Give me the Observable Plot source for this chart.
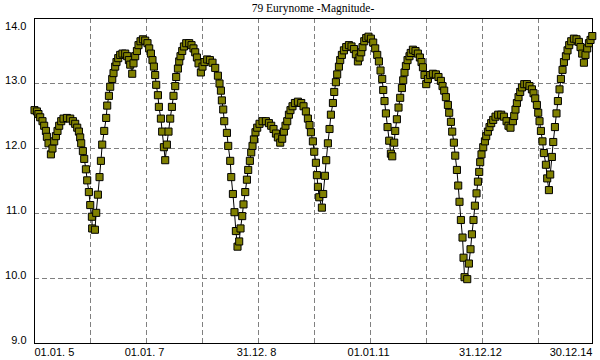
<!DOCTYPE html>
<html>
<head>
<meta charset="utf-8">
<script src="https://cdn.jsdelivr.net/npm/d3@7"></script>
<script src="https://cdn.jsdelivr.net/npm/@observablehq/plot@0.6"></script>
<style>
  html, body { margin: 0; padding: 0; background: #fff; }
  #wrap { position: relative; width: 600px; height: 360px; }
  #title { position: absolute; left: 34px; width: 558px; top: 1px; text-align: center;
           font-family: "Liberation Serif", "Times New Roman", serif; font-size: 11.5px; line-height: 14px; color: #000; }
</style>
</head>
<body>
<div id="wrap"><div id="title">79 Eurynome -Magnitude-</div></div>
<script>
const titleText = "79 Eurynome -Magnitude-";

// decimal year of each observation
const years = [
  2005.000, 2005.043, 2005.071, 2005.102, 2005.143, 2005.173, 2005.204, 2005.221, 2005.250, 2005.293,
  2005.321, 2005.352, 2005.382, 2005.411, 2005.441, 2005.477, 2005.518, 2005.579, 2005.638, 2005.686,
  2005.727, 2005.763, 2005.793, 2005.816, 2005.834, 2005.864, 2005.888, 2005.918, 2005.941, 2005.971,
  2005.995, 2006.025, 2006.030, 2006.079, 2006.102, 2006.132, 2006.161, 2006.186, 2006.209, 2006.245,
  2006.280, 2006.298, 2006.329, 2006.352, 2006.388, 2006.411, 2006.441, 2006.464, 2006.495, 2006.530,
  2006.571, 2006.620, 2006.655, 2006.686, 2006.709, 2006.745, 2006.768, 2006.798, 2006.829, 2006.857,
  2006.893, 2006.936, 2006.977, 2007.018, 2007.048, 2007.079, 2007.107, 2007.132, 2007.155, 2007.173,
  2007.204, 2007.221, 2007.257, 2007.280, 2007.311, 2007.334, 2007.364, 2007.393, 2007.423, 2007.454,
  2007.482, 2007.513, 2007.530, 2007.561, 2007.584, 2007.607, 2007.638, 2007.668, 2007.709, 2007.763,
  2007.804, 2007.839, 2007.870, 2007.900, 2007.929, 2007.971, 2008.000, 2008.036, 2008.084, 2008.132,
  2008.179, 2008.227, 2008.275, 2008.304, 2008.329, 2008.346, 2008.370, 2008.388, 2008.436, 2008.459,
  2008.495, 2008.513, 2008.543, 2008.571, 2008.596, 2008.625, 2008.655, 2008.679, 2008.709, 2008.732,
  2008.763, 2008.793, 2008.816, 2008.846, 2008.870, 2008.893, 2008.918, 2008.946, 2008.977, 2009.018,
  2009.071, 2009.132, 2009.186, 2009.227, 2009.268, 2009.311, 2009.346, 2009.388, 2009.423, 2009.454,
  2009.482, 2009.513, 2009.543, 2009.571, 2009.607, 2009.650, 2009.704, 2009.763, 2009.804, 2009.846,
  2009.882, 2009.911, 2009.936, 2009.971, 2009.995, 2010.025, 2010.043, 2010.061, 2010.084, 2010.132,
  2010.155, 2010.186, 2010.209, 2010.239, 2010.268, 2010.293, 2010.329, 2010.352, 2010.382, 2010.405,
  2010.436, 2010.459, 2010.489, 2010.525, 2010.566, 2010.614, 2010.661, 2010.704, 2010.739, 2010.775,
  2010.804, 2010.834, 2010.857, 2010.888, 2010.923, 2010.964, 2011.007, 2011.048, 2011.084, 2011.120,
  2011.150, 2011.179, 2011.209, 2011.227, 2011.250, 2011.275, 2011.304, 2011.334, 2011.364, 2011.388,
  2011.423, 2011.441, 2011.471, 2011.500, 2011.530, 2011.561, 2011.584, 2011.607, 2011.632, 2011.661,
  2011.696, 2011.718, 2011.757, 2011.804, 2011.846, 2011.882, 2011.911, 2011.936, 2011.964, 2011.995,
  2012.025, 2012.066, 2012.114, 2012.168, 2012.214, 2012.257, 2012.286, 2012.316, 2012.346, 2012.382,
  2012.405, 2012.436, 2012.459, 2012.489, 2012.513, 2012.543, 2012.566, 2012.589, 2012.614, 2012.643,
  2012.661, 2012.679, 2012.727, 2012.757, 2012.786, 2012.811, 2012.839, 2012.864, 2012.893, 2012.918,
  2012.941, 2012.959, 2012.982, 2013.013, 2013.043, 2013.066, 2013.096, 2013.125, 2013.155, 2013.191,
  2013.232, 2013.280, 2013.334, 2013.382, 2013.429, 2013.464, 2013.500, 2013.543, 2013.566, 2013.589,
  2013.614, 2013.643, 2013.673, 2013.704, 2013.745, 2013.793, 2013.839, 2013.882, 2013.911, 2013.941,
  2013.971, 2013.995, 2014.018, 2014.043, 2014.071, 2014.096, 2014.132, 2014.155, 2014.186, 2014.209,
  2014.239, 2014.263, 2014.293, 2014.321, 2014.346, 2014.375, 2014.400, 2014.429, 2014.454, 2014.489,
  2014.518, 2014.548, 2014.584, 2014.632, 2014.679, 2014.721, 2014.750, 2014.780, 2014.811, 2014.839,
  2014.870, 2014.900, 2014.929, 2014.960
];

// magnitude at each observation
const mags = [
  12.59, 12.57, 12.53, 12.48, 12.42, 12.35, 12.27, 12.18, 12.08, 11.91,
  12.00, 12.11, 12.19, 12.27, 12.35, 12.42, 12.46, 12.47, 12.46, 12.42,
  12.38, 12.32, 12.26, 12.17, 12.08, 11.96, 11.84, 11.68, 11.51, 11.33,
  11.13, 10.95, 10.77, 10.75, 11.01, 11.29, 11.56, 11.81, 12.06, 12.27,
  12.47, 12.66, 12.81, 12.95, 13.07, 13.16, 13.26, 13.33, 13.39, 13.44,
  13.46, 13.46, 13.42, 13.36, 13.29, 13.15, 13.31, 13.42, 13.50, 13.59,
  13.65, 13.68, 13.66, 13.62, 13.54, 13.46, 13.36, 13.26, 13.13, 12.98,
  12.82, 12.64, 12.46, 12.26, 12.02, 11.82, 12.06, 12.26, 12.46, 12.64,
  12.81, 12.96, 13.10, 13.23, 13.34, 13.42, 13.50, 13.57, 13.62, 13.62,
  13.59, 13.54, 13.48, 13.40, 13.31, 13.17, 13.26, 13.33, 13.37, 13.36,
  13.32, 13.24, 13.12, 13.00, 12.89, 12.74, 12.60, 12.42, 12.24, 12.04,
  11.81, 11.56, 11.30, 11.02, 10.73, 10.49, 10.57, 10.77, 10.96, 11.14,
  11.33, 11.52, 11.67, 11.81, 11.94, 12.04, 12.14, 12.25, 12.32, 12.38,
  12.42, 12.42, 12.39, 12.35, 12.30, 12.23, 12.17, 12.09, 12.15, 12.26,
  12.35, 12.42, 12.52, 12.59, 12.65, 12.70, 12.72, 12.70, 12.65, 12.57,
  12.46, 12.36, 12.25, 12.11, 11.95, 11.78, 11.59, 11.41, 11.25, 11.09,
  11.30, 11.58, 11.82, 12.08, 12.30, 12.52, 12.70, 12.87, 13.02, 13.14,
  13.26, 13.36, 13.44, 13.51, 13.56, 13.59, 13.57, 13.53, 13.45, 13.34,
  13.40, 13.48, 13.56, 13.65, 13.70, 13.72, 13.69, 13.63, 13.54, 13.44,
  13.34, 13.20, 13.07, 12.90, 12.73, 12.54, 12.33, 12.12, 11.92, 11.88,
  12.09, 12.27, 12.45, 12.63, 12.78, 12.93, 13.05, 13.17, 13.27, 13.36,
  13.42, 13.47, 13.52, 13.50, 13.46, 13.40, 13.33, 13.25, 13.13, 12.99,
  13.07, 13.13, 13.15, 13.14, 13.10, 13.04, 12.96, 12.89, 12.79, 12.67,
  12.55, 12.41, 12.26, 12.09, 11.89, 11.67, 11.43, 11.18, 10.90, 10.63,
  10.32, 10.02, 9.99, 10.23, 10.45, 10.68, 10.90, 11.12, 11.31, 11.49,
  11.64, 11.79, 11.91, 12.02, 12.11, 12.19, 12.26, 12.33, 12.39, 12.44,
  12.49, 12.52, 12.52, 12.49, 12.42, 12.35, 12.32, 12.42, 12.50, 12.60,
  12.70, 12.79, 12.87, 12.94, 12.99, 12.99, 12.96, 12.91, 12.85, 12.77,
  12.67, 12.55, 12.42, 12.27, 12.11, 11.93, 11.75, 11.54, 11.36, 11.60,
  11.87, 12.10, 12.33, 12.54, 12.73, 12.91, 13.07, 13.21, 13.33, 13.42,
  13.51, 13.59, 13.65, 13.69, 13.68, 13.64, 13.56, 13.46, 13.32, 13.44,
  13.54, 13.62, 13.67, 13.73
];

const xStart = 2005;
const xEnd = 2014.964;
const gridYears = [2006, 2007, 2008, 2009, 2010, 2011, 2012, 2013, 2014];
const gridMags = [10, 11, 12, 13];
const yTicks = [9, 10, 11, 12, 13, 14];
const labelYears = [2005, 2007, 2009, 2011, 2013, 2015];
const labelTexts = ["01.01. 5", "01.01. 7", "31.12. 8", "01.01.11", "31.12.12", "30.12.14"];

if (years.length !== mags.length) console.error("length mismatch", years.length, mags.length);
const data = years.map((t, i) => ({t, m: mags[i]}));

const grid = {stroke: "#808080", strokeOpacity: 1, strokeWidth: 1, strokeDasharray: "5,3"};
const lab = d => labelTexts[labelYears.indexOf(d)];

const chart = Plot.plot({
  width: 600,
  height: 360,
  marginTop: 18,
  marginLeft: 34,
  marginRight: 8,
  marginBottom: 17,
  style: {fontFamily: "'Liberation Sans', Arial, sans-serif", fontSize: "11px", background: "#fff", color: "#000"},
  x: {domain: [xStart, xEnd], label: null},
  y: {domain: [yTicks[0], yTicks[yTicks.length - 1]], label: null},
  marks: [
    Plot.gridX(gridYears, grid),
    Plot.gridY(gridMags, grid),
    Plot.frame({stroke: "#000"}),
    Plot.line(data, {x: "t", y: "m", stroke: "#000", strokeWidth: 1}),
    Plot.dot(data, {x: "t", y: "m", symbol: "square", r: 4, fill: "#808000", stroke: "#000", strokeWidth: 1}),
    Plot.axisY(yTicks.slice(0, -1), {tickSize: 0, tickPadding: 8, dy: -3.5, tickFormat: d => d.toFixed(1), label: null}),
    Plot.axisY(yTicks.slice(-1), {tickSize: 0, tickPadding: 8, dy: 7.5, tickFormat: d => d.toFixed(1), label: null}),
    Plot.axisX(labelYears.slice(0, 1), {tickSize: 0, tickPadding: 5, textAnchor: "start", tickFormat: lab, label: null}),
    Plot.axisX(labelYears.slice(1, -1), {tickSize: 0, tickPadding: 5, dx: -2, tickFormat: lab, label: null}),
    Plot.axisX([xEnd], {tickSize: 0, tickPadding: 5, textAnchor: "end", tickFormat: () => labelTexts[labelTexts.length - 1], label: null})
  ]
});
document.getElementById("wrap").appendChild(chart);
chart.style.position = "absolute";
chart.style.left = "0px";
chart.style.top = "0px";
document.getElementById("title").style.zIndex = 2;
document.getElementById("title").textContent = titleText;
</script>
</body>
</html>
